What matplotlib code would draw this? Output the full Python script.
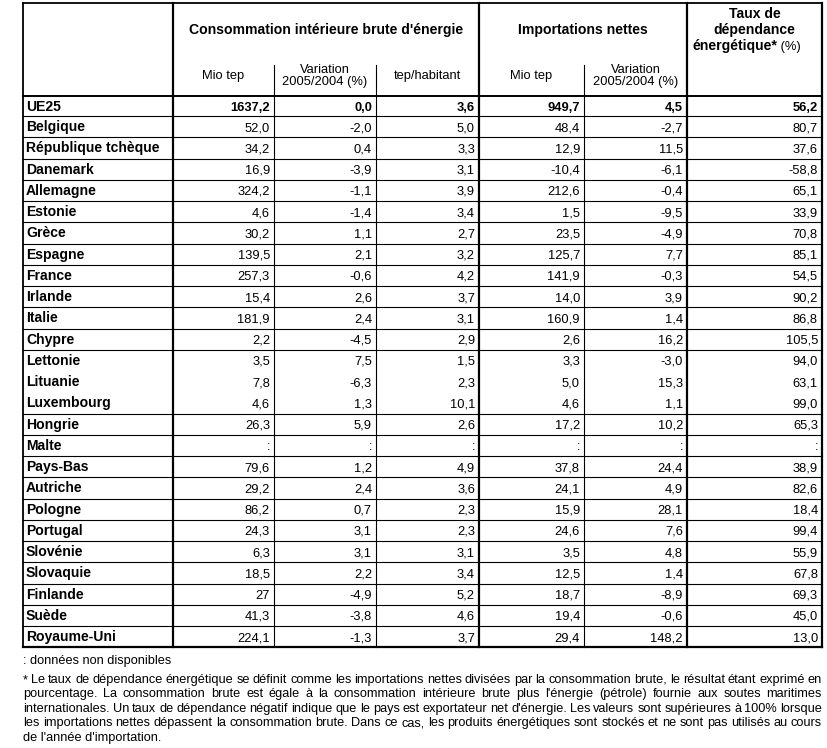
import matplotlib.pyplot as plt

plt.rcParams['font.family'] = ['Liberation Sans', 'DejaVu Sans']

# données du tableau
pays = ['UE25', 'Belgique', 'République tchèque', 'Danemark', 'Allemagne', 'Estonie',
        'Grèce', 'Espagne', 'France', 'Irlande', 'Italie', 'Chypre', 'Lettonie',
        'Lituanie', 'Luxembourg', 'Hongrie', 'Malte', 'Pays-Bas', 'Autriche',
        'Pologne', 'Portugal', 'Slovénie', 'Slovaquie', 'Finlande', 'Suède',
        'Royaume-Uni']
conso_mtep = ['1637,2', '52,0', '34,2', '16,9', '324,2', '4,6', '30,2', '139,5', '257,3',
              '15,4', '181,9', '2,2', '3,5', '7,8', '4,6', '26,3', ':', '79,6', '29,2',
              '86,2', '24,3', '6,3', '18,5', '27', '41,3', '224,1']
conso_var = ['0,0', '-2,0', '0,4', '-3,9', '-1,1', '-1,4', '1,1', '2,1', '-0,6', '2,6',
             '2,4', '-4,5', '7,5', '-6,3', '1,3', '5,9', ':', '1,2', '2,4', '0,7', '3,1',
             '3,1', '2,2', '-4,9', '-3,8', '-1,3']
tep_hab = ['3,6', '5,0', '3,3', '3,1', '3,9', '3,4', '2,7', '3,2', '4,2', '3,7', '3,1',
           '2,9', '1,5', '2,3', '10,1', '2,6', ':', '4,9', '3,6', '2,3', '2,3', '3,1',
           '3,4', '5,2', '4,6', '3,7']
imp_mtep = ['949,7', '48,4', '12,9', '-10,4', '212,6', '1,5', '23,5', '125,7', '141,9',
            '14,0', '160,9', '2,6', '3,3', '5,0', '4,6', '17,2', ':', '37,8', '24,1',
            '15,9', '24,6', '3,5', '12,5', '18,7', '19,4', '29,4']
imp_var = ['4,5', '-2,7', '11,5', '-6,1', '-0,4', '-9,5', '-4,9', '7,7', '-0,3', '3,9',
           '1,4', '16,2', '-3,0', '15,3', '1,1', '10,2', ':', '24,4', '4,9', '28,1', '7,6',
           '4,8', '1,4', '-8,9', '-0,6', '148,2']
dependance = ['56,2', '80,7', '37,6', '-58,8', '65,1', '33,9', '70,8', '85,1', '54,5',
              '90,2', '86,8', '105,5', '94,0', '63,1', '99,0', '65,3', ':', '38,9', '82,6',
              '18,4', '99,4', '55,9', '67,8', '69,3', '45,0', '13,0']

groupes = ["Consommation intérieure brute d'énergie", 'Importations nettes']
sous_titres = ['Mio tep', 'Variation\n2005/2004 (%)', 'tep/habitant',
               'Mio tep', 'Variation\n2005/2004 (%)']

note_nd = ': données non disponibles'
note_lignes = [
    "* Le taux de dépendance énergétique se définit comme les importations nettes divisées par la consommation brute, le résultat étant exprimé en",
    "pourcentage. La consommation brute est égale à la consommation intérieure brute plus l'énergie (pétrole) fournie aux soutes maritimes",
    "internationales. Un taux de dépendance négatif indique que le pays est exportateur net d'énergie. Les valeurs sont supérieures à 100% lorsque",
    "les importations nettes dépassent la consommation brute. Dans ce cas, les produits énergétiques sont stockés et ne sont pas utilisés au cours",
    "de l'année d'importation.",
]

# géométrie (pixels)
W, H = 828, 748
xs = [23, 173, 274, 376, 479, 584, 687, 822]
y_top, y_head = 3, 96
y_ue = 116
pas = 21.25
fs = 9.3       # texte normal
fs_b = 10.1    # libellés en gras

fig = plt.figure(figsize=(W / 100, H / 100), dpi=100)
ax = fig.add_axes([0, 0, 1, 1])
ax.set_xlim(0, W)
ax.set_ylim(H, 0)
ax.axis('off')

n = len(pays)
y_bas = y_ue + pas * (n - 1)
bords = [y_head, y_ue] + [y_ue + pas * k for k in range(1, n)]

thin, thick = 0.8, 1.6
# cadre
ax.plot([xs[0], xs[-1]], [y_top, y_top], color='black', lw=1.3)
ax.plot([xs[0], xs[0]], [y_top, y_bas], color='black', lw=1.3)
ax.plot([xs[-1], xs[-1]], [y_top, y_bas], color='black', lw=thick)
ax.plot([xs[0], xs[-1]], [y_bas, y_bas], color='black', lw=thick)
ax.plot([xs[0], xs[-1]], [y_head, y_head], color='black', lw=1.4)
for x in (xs[1], xs[4], xs[6]):
    ax.plot([x, x], [y_top, y_bas], color='black', lw=thick)
for x in (xs[2], xs[3], xs[5]):
    ax.plot([x, x], [65, y_bas], color='black', lw=thin)

# lignes horizontales (pas entre Lettonie / Lituanie / Luxembourg)
sans_ligne = {'Lettonie', 'Lituanie'}
for i in range(n - 1):
    if pays[i] in sans_ligne:
        continue
    y = bords[i + 1]
    ax.plot([xs[0], xs[-1]], [y, y], color='black', lw=thin)

# en-têtes
ax.text((xs[1] + xs[4]) / 2, 34, groupes[0], ha='center', va='baseline',
        fontsize=fs_b, fontweight='bold')
ax.text((xs[4] + xs[6]) / 2, 34, groupes[1], ha='center', va='baseline',
        fontsize=fs_b, fontweight='bold')
xc = (xs[6] + xs[7]) / 2
ax.text(xc, 18, 'Taux de', ha='center', va='baseline', fontsize=fs_b, fontweight='bold')
ax.text(xc, 34, 'dépendance', ha='center', va='baseline', fontsize=fs_b, fontweight='bold')
ax.text(777, 50, 'énergétique*', ha='right', va='baseline',
        fontsize=fs_b, fontweight='bold')
ax.text(777, 50, ' (%)', ha='left', va='baseline', fontsize=fs)
for j, st in enumerate(sous_titres):
    ax.text((xs[j + 1] + xs[j + 2]) / 2, 76, st, ha='center', va='center',
            fontsize=fs, linespacing=1.1)

# corps
colonnes = [conso_mtep, conso_var, tep_hab, imp_mtep, imp_var, dependance]
for i, p in enumerate(pays):
    yb = (bords[i] + bords[i + 1]) / 2 + 4.5
    poids = 'bold' if i == 0 else 'normal'
    ax.text(xs[0] + 3, yb, p, ha='left', va='baseline', fontsize=fs_b, fontweight='bold')
    for j, col in enumerate(colonnes):
        ax.text(xs[j + 2] - 4, yb, col[i], ha='right', va='baseline',
                fontsize=fs, fontweight=poids)

# notes
fs_n = 9.2
ax.text(xs[0], 664, note_nd, ha='left', va='baseline', fontsize=fs_n)
fig.canvas.draw()
rend = fig.canvas.get_renderer()


def largeur(mot):
    t = ax.text(0, 0, mot, fontsize=fs_n)
    bb = t.get_window_extent(renderer=rend)
    t.remove()
    return bb.width


y0, dy = 683, 14.4
for k, ligne in enumerate(note_lignes):
    y = y0 + dy * k
    if k == len(note_lignes) - 1:
        ax.text(xs[0], y, ligne, ha='left', va='baseline', fontsize=fs_n)
        continue
    mots = ligne.split(' ')
    lw = [largeur(m) for m in mots]
    total = xs[-1] - xs[0]
    espace = (total - sum(lw)) / (len(mots) - 1)
    x = xs[0]
    for m, w in zip(mots, lw):
        ax.text(x, y, m, ha='left', va='baseline', fontsize=fs_n)
        x += w + espace

fig.savefig('out.png', dpi=100)
